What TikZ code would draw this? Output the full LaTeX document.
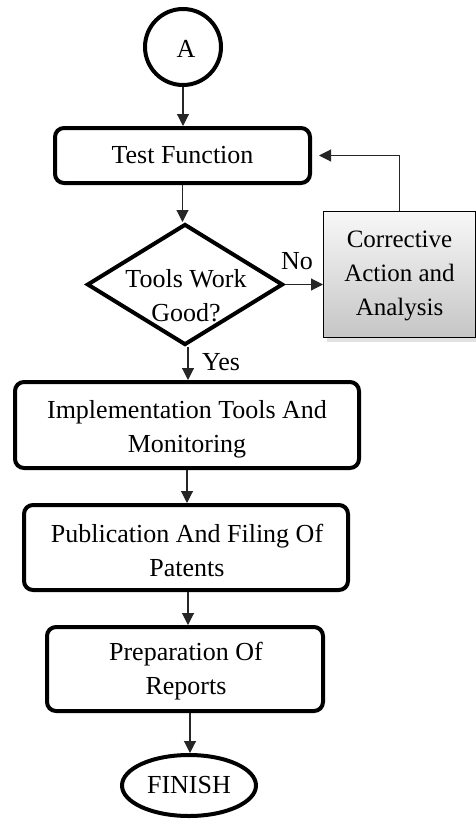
\documentclass[tikz,border=0pt]{standalone}
\usepackage{fontspec}
\setmainfont{Liberation Serif}
\usetikzlibrary{shapes.geometric,arrows.meta,shadows}
\begin{document}
\begin{tikzpicture}[x=1pt,y=-1pt,
  thickbox/.style={draw, line width=4pt, rounded corners=9pt, align=center, inner sep=0pt},
  arr/.style={-{Triangle[length=12pt,width=12pt]}, line width=1.1pt, draw=black!85},
  txt/.style={font=\fontsize{26}{34}\selectfont},
  boxtext/.style={font=\fontsize{26}{34}\selectfont, align=center, inner sep=0pt},
  lbl/.style={font=\fontsize{26}{34}\selectfont, inner sep=0pt}]
\useasboundingbox (0,0) rectangle (476,819);
\node[circle, draw, line width=4pt, minimum size=76pt, inner sep=0pt] (A) at (183,47) {};
\node[boxtext] (Atext) at (186,49) {A};
\node[thickbox, minimum width=255pt, minimum height=55pt, txt] (test) at (182.5,155.5) {Test Function};
\node[diamond, draw, line width=4pt, minimum width=196pt, minimum height=121pt, inner sep=0pt] (dec) at (185,284.5) {};
\node[boxtext] (dectext) at (186,296) {Tools Work\\Good?};
\node[draw, line width=1pt, top color=gray!6, bottom color=gray!45,
  drop shadow={shadow xshift=3pt, shadow yshift=-4pt, fill=gray!45},
  minimum width=152pt, minimum height=126pt, align=center, inner sep=0pt] (corr) at (399.5,274.5) {};
\node[boxtext, font=\fontsize{25}{34}\selectfont] (corrtext) at (399.5,276) {Corrective\\Action and\\Analysis};
\node[thickbox, minimum width=344pt, minimum height=86pt] (impl) at (187,425) {};
\node[boxtext] (impltext) at (187,429) {Implementation Tools And\\Monitoring};
\node[thickbox, minimum width=324pt, minimum height=85pt] (pub) at (186,547.5) {};
\node[boxtext] (pubtext) at (187,550.5) {Publication And Filing Of\\Patents};
\node[thickbox, minimum width=276pt, minimum height=84pt] (prep) at (185,669) {};
\node[boxtext] (preptext) at (186,671) {Preparation Of\\Reports};
\node[ellipse, draw, line width=4pt, minimum width=134pt, minimum height=61pt, inner sep=0pt, txt] (fin) at (189,785.5) {FINISH};
\node[lbl] (no) at (297,261) {No};
\node[lbl] (yes) at (221,362) {Yes};
\draw[arr] (A.south) -- (A.south |- test.north);
\draw[arr] (test.south) -- (test.south |- dec.north);
\draw[arr] (dec.east) -- (corr.west |- dec.east);
\draw[arr, shorten >=7pt] (corr.north) |- (test.east);
\draw[arr] ([xshift=3pt]dec.south) -- ([xshift=3pt]dec.south |- impl.north);
\draw[arr] (impl.south) -- (impl.south |- pub.north);
\draw[arr] ([xshift=2pt]pub.south) -- ([xshift=2pt]pub.south |- prep.north);
\draw[arr] ([xshift=5pt]prep.south) -- ([xshift=5pt]prep.south |- fin.north);
\end{tikzpicture}
\end{document}
